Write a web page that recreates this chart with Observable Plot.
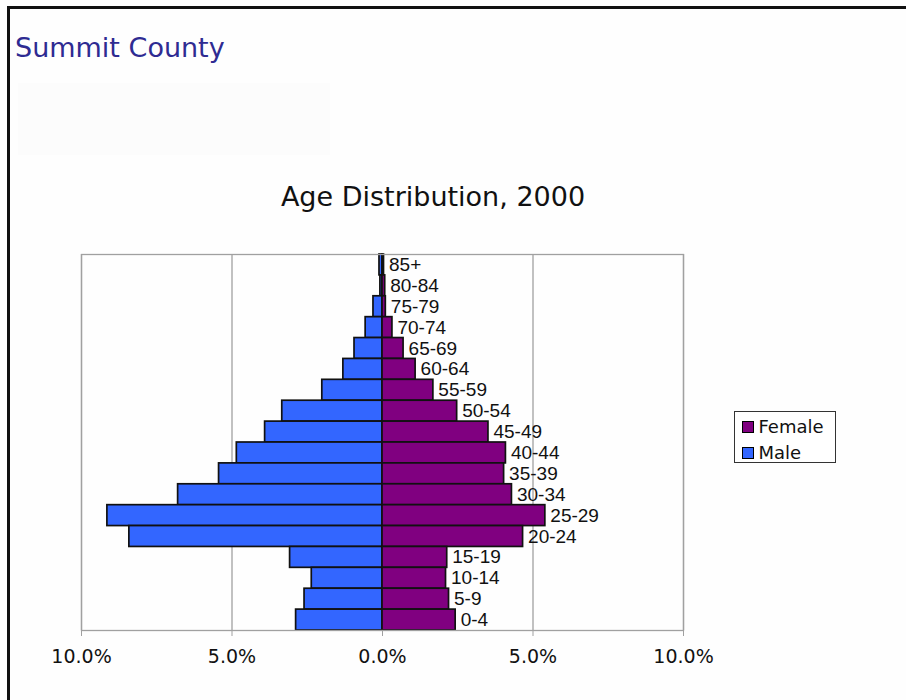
<!DOCTYPE html>
<html>
<head>
<meta charset="utf-8">
<script src="https://cdn.jsdelivr.net/npm/d3@7"></script>
<script src="https://cdn.jsdelivr.net/npm/@observablehq/plot@0.6"></script>
<style>
  html, body { margin: 0; padding: 0; background: #fefefe; }
  #page { position: relative; width: 906px; height: 700px; overflow: hidden; background: #fefefe; }
  #frame { position: absolute; left: 7px; top: 6px; width: 1200px; height: 1000px; border-left: 3px solid #111; border-top: 3px solid #111; }
  #faint { position: absolute; left: 18px; top: 83px; width: 312px; height: 72px; background: #fcfcfc; }
  #county { position: absolute; left: 15px; top: 34px; font-family: "DejaVu Sans", sans-serif; font-size: 27px; line-height: 27px; color: #2e2b92; white-space: nowrap; }
  #title { position: absolute; left: 433px; top: 183px; transform: translateX(-50%); font-family: "DejaVu Sans", sans-serif; font-size: 27px; line-height: 27px; color: #111; white-space: nowrap; }
  #chart { position: absolute; left: 0; top: 240px; }
  #legend { position: absolute; left: 734px; top: 411px; width: 102px; height: 52px; box-sizing: border-box; border: 1.5px solid #333; background: #fff; }
  .sw { position: absolute; width: 12px; height: 12px; box-sizing: border-box; border: 1px solid #000; }
  .lt { position: absolute; font-family: "DejaVu Sans", sans-serif; font-size: 18px; line-height: 18px; color: #111; white-space: nowrap; }
</style>
</head>
<body>
<div id="page">
  <div id="frame"></div>
  <div id="faint"></div>
  <div id="county">Summit County</div>
  <div id="title">Age Distribution, 2000</div>
  <div id="chart"></div>
  <div id="legend"></div>
</div>
<script>
// Age groups, top to bottom
const ages = ["85+","80-84","75-79","70-74","65-69","60-64","55-59","50-54","45-49","40-44","35-39","30-34","25-29","20-24","15-19","10-14","5-9","0-4"];
// Percent of population
const male   = [0.10, 0.07, 0.30, 0.56, 0.93, 1.30, 2.00, 3.33, 3.90, 4.84, 5.43, 6.79, 9.14, 8.41, 3.07, 2.35, 2.59, 2.87];
const female = [0.05, 0.09, 0.11, 0.33, 0.70, 1.10, 1.69, 2.48, 3.52, 4.10, 4.04, 4.30, 5.41, 4.67, 2.15, 2.11, 2.21, 2.43];
const tickValues = [-10, -5, 0, 5, 10];
const seriesNames = ["Female", "Male"];
const seriesColors = ["#800080", "#3366ff"];

const maleRows = ages.map((a, i) => ({age: a, value: -male[i]}));
const femaleRows = ages.map((a, i) => ({age: a, value: female[i]}));

const chart = Plot.plot({
  width: 906,
  height: 440,
  marginTop: 14,
  marginBottom: 50,
  marginLeft: 81,
  marginRight: 223,
  style: {background: "transparent", overflow: "visible"},
  x: {domain: [-10, 10]},
  y: {domain: ages, padding: 0, round: false},
  marks: [
    Plot.ruleX(tickValues, {stroke: "#a0a0a0", strokeWidth: 1.3}),
    Plot.barX(maleRows, {x1: 0, x2: "value", y: "age", fill: seriesColors[1], stroke: "#111", strokeWidth: 1.7}),
    Plot.barX(femaleRows, {x1: 0, x2: "value", y: "age", fill: seriesColors[0], stroke: "#111", strokeWidth: 1.7}),
    Plot.text(femaleRows, {x: "value", y: "age", text: "age", textAnchor: "start", dx: 5, fontSize: 19, fontFamily: "Liberation Sans, Arial, sans-serif", fill: "#111"}),
    Plot.frame({stroke: "#a0a0a0", strokeWidth: 1.3}),
    Plot.axisX(tickValues, {
      tickSize: 6, tickPadding: 13, stroke: "#a0a0a0",
      tickFormat: d => Math.abs(d).toFixed(1) + "%",
      fontSize: 19, fontFamily: "DejaVu Sans, sans-serif", fill: "#111", label: null
    }),
    Plot.axisY({ticks: [], label: null, tickSize: 0})
  ]
});
document.getElementById("chart").appendChild(chart);

const legend = document.getElementById("legend");
const legTop = [8.5, 34.5];
const txtTop = [6, 32];
seriesNames.forEach((name, i) => {
  const sw = document.createElement("div");
  sw.className = "sw";
  sw.style.left = "6.5px";
  sw.style.top = legTop[i] + "px";
  sw.style.background = seriesColors[i];
  legend.appendChild(sw);
  const t = document.createElement("div");
  t.className = "lt";
  t.style.left = "23.5px";
  t.style.top = txtTop[i] + "px";
  t.textContent = name;
  legend.appendChild(t);
});
</script>
</body>
</html>
